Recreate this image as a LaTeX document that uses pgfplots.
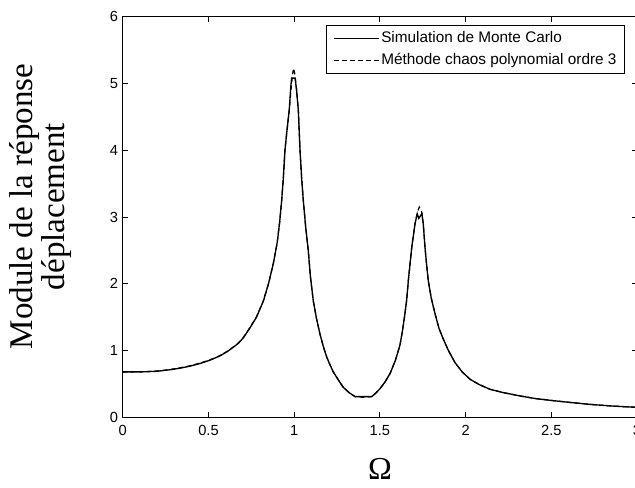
\documentclass[border=0pt]{standalone}
\usepackage{fontspec}
\setmainfont{Liberation Sans}
\newfontfamily\tnr{Liberation Serif}
\usepackage{pgfplots}
\usepackage{pgfplotstable}
\pgfplotsset{compat=1.18}

\pgfplotstableread{
x y
0 0.68
0.05 0.68
0.10 0.68
0.15 0.684
0.20 0.69
0.236 0.70
0.28 0.714
0.334 0.736
0.39 0.765
0.45 0.806
0.51 0.857
0.567 0.92
0.61 0.985
0.645 1.05
0.675 1.11
0.703 1.19
0.742 1.34
0.78 1.50
0.82 1.74
0.85 2.0
0.878 2.3
0.901 2.62
0.915 2.92
0.927 3.25
0.937 3.6
0.946 4.0
0.958 4.3
0.971 4.6
0.98 4.95
0.985 5.08
1.005 5.08
1.014 4.9
1.024 4.6
1.034 4.0
1.043 3.6
1.053 3.25
1.067 2.85
1.082 2.5
1.095 2.1
1.111 1.75
1.13 1.48
1.150 1.25
1.17 1.06
1.190 0.90
1.21 0.78
1.228 0.68
1.26 0.55
1.286 0.45
1.32 0.37
1.355 0.31
1.452 0.31
1.475 0.36
1.501 0.43
1.53 0.53
1.559 0.655
1.59 0.85
1.617 1.08
1.632 1.30
1.646 1.55
1.656 1.75
1.666 2.05
1.676 2.30
1.686 2.55
1.705 2.90
1.718 3.05
1.727 2.98
1.745 3.05
1.753 2.90
1.763 2.55
1.772 2.30
1.782 2.05
1.80 1.78
1.822 1.55
1.845 1.33
1.870 1.17
1.90 1.00
1.938 0.82
1.98 0.68
2.026 0.57
2.08 0.49
2.142 0.42
2.22 0.37
2.317 0.32
2.41 0.28
2.510 0.25
2.62 0.22
2.743 0.19
2.85 0.17
2.918 0.16
3.0 0.15
}\mcdata

\pgfplotstableread{
x y
0 0.68
0.05 0.68
0.10 0.682
0.15 0.687
0.20 0.694
0.236 0.704
0.28 0.718
0.334 0.741
0.39 0.77
0.45 0.811
0.51 0.862
0.567 0.925
0.61 0.99
0.645 1.055
0.675 1.115
0.703 1.195
0.742 1.345
0.78 1.505
0.82 1.745
0.85 2.0
0.878 2.3
0.901 2.62
0.915 2.92
0.927 3.25
0.937 3.6
0.946 4.0
0.958 4.3
0.971 4.6
0.983 4.95
0.991 5.15
0.997 5.23
1.005 5.12
1.014 4.9
1.024 4.6
1.034 4.0
1.043 3.6
1.053 3.25
1.067 2.85
1.082 2.5
1.095 2.1
1.111 1.75
1.13 1.48
1.150 1.25
1.17 1.06
1.190 0.90
1.21 0.78
1.228 0.68
1.26 0.55
1.286 0.45
1.32 0.37
1.355 0.31
1.40 0.30
1.452 0.31
1.475 0.36
1.501 0.43
1.53 0.53
1.559 0.655
1.59 0.85
1.617 1.08
1.632 1.30
1.646 1.55
1.656 1.75
1.666 2.05
1.676 2.30
1.686 2.55
1.705 2.90
1.720 3.08
1.730 3.15
1.742 3.10
1.753 2.90
1.763 2.55
1.772 2.30
1.782 2.05
1.80 1.78
1.822 1.55
1.845 1.33
1.870 1.17
1.90 1.00
1.938 0.82
1.98 0.68
2.026 0.57
2.08 0.49
2.142 0.42
2.22 0.37
2.317 0.32
2.41 0.28
2.510 0.25
2.62 0.22
2.743 0.19
2.85 0.17
2.918 0.16
3.0 0.15
}\pcdata

\begin{document}
\begin{tikzpicture}
\begin{axis}[
  at={(0pt,0pt)}, anchor=south west,
  scale only axis,
  width=385.65pt, height=300.45pt,
  xmin=0, xmax=3, ymin=0, ymax=6,
  xtick={0,0.5,1,1.5,2,2.5,3},
  ytick={0,1,2,3,4,5,6},
  xticklabels={0,0.5,1,1.5,2,2.5,3},
  yticklabels={0,1,2,3,4,5,6},
  tick align=inside,
  major tick length=4pt,
  axis line style={line width=0.75pt},
  every tick/.style={black, line width=0.75pt},
  ticklabel style={font=\fontsize{11}{13}\selectfont},
  /pgf/number format/assume math mode=true,
  xticklabel style={yshift=-2.8pt},
  xlabel={Ω},
  xlabel style={font=\tnr\fontsize{24}{24}\selectfont, at={([yshift=-47pt]axis description cs:0.5,0)}, anchor=base, inner sep=0pt},
  ylabel={Module de la réponse\\déplacement},
  ylabel style={font=\tnr\fontsize{24.8}{23.75}\selectfont, align=center, at={([xshift=-38.6pt]axis description cs:0,0.526)}, anchor=south, inner sep=0pt},
  legend cell align=left,
  legend image code/.code={\draw[#1] (0pt,0pt) -- (34pt,0pt);},
  legend style={at={(axis description cs:0.9767,0.979)}, anchor=north east,
    draw=black, line width=0.75pt, fill=white,
    font=\fontsize{11.5}{13}\selectfont,
    inner xsep=5pt, inner ysep=3.3pt, row sep=3.3pt,
    nodes={inner sep=1pt, text height=8.5pt, text depth=2.5pt}},
]
\addplot[black, line width=1pt] table[x=x,y=y] {\mcdata};
\addlegendentry{Simulation de Monte Carlo}
\addplot[black, line width=0.9pt, dash pattern=on 3.5pt off 2.5pt] table[x=x,y=y] {\pcdata};
\addlegendentry{Méthode chaos polynomial ordre 3}
\end{axis}
\pgfresetboundingbox
\path[use as bounding box] (-92.1pt,-52.3pt) rectangle (384.15pt,312.98pt);
\end{tikzpicture}
\end{document}
